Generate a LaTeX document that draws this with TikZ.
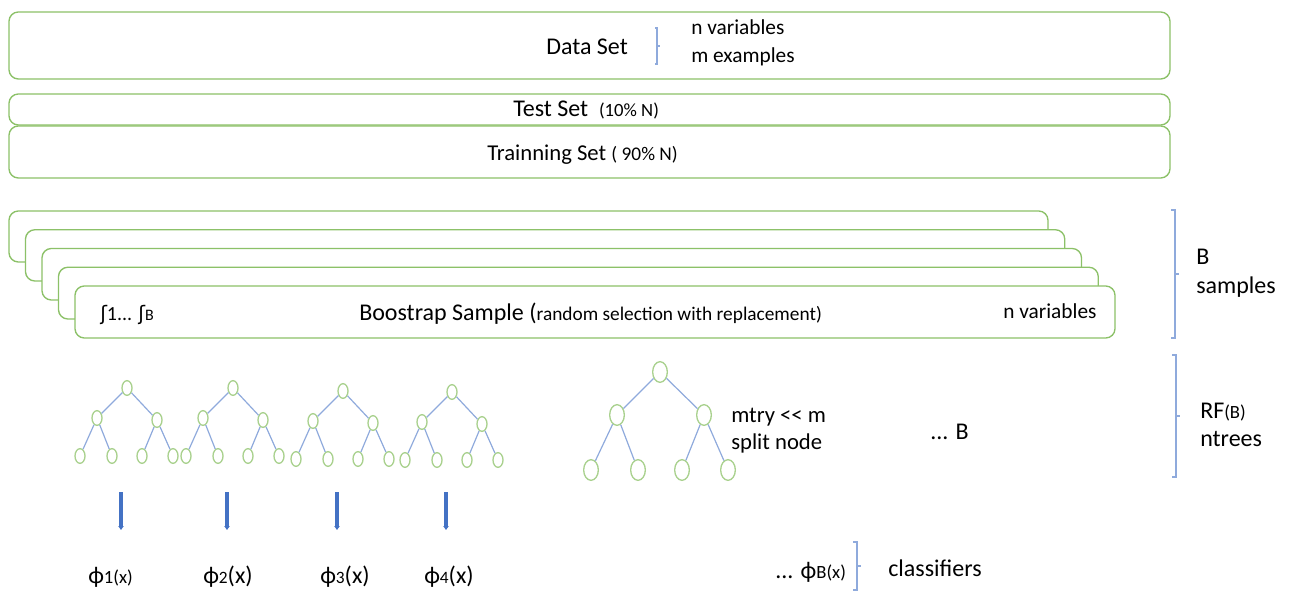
\documentclass[tikz,border=0pt]{standalone}
\usepackage{fontspec}
\setmainfont{Carlito}
\newfontfamily\symfont{DejaVu Sans}
\usetikzlibrary{shapes.geometric,arrows.meta}
\definecolor{boxgreen}{HTML}{8CC168}
\definecolor{leafgreen}{HTML}{A9D18E}
\definecolor{edgeblue}{HTML}{8FAADC}
\definecolor{arrowblue}{HTML}{4472C4}
\newcommand{\setfs}[1]{\fontsize{#1}{#1}\selectfont}

\begin{document}
\begin{tikzpicture}[x=0.75pt, y=-0.75pt, every node/.style={inner sep=0pt},
    setbox/.style={draw=boxgreen, line width=1pt, rounded corners=7pt, fill=white},
    tnode/.style={draw=leafgreen, line width=1pt, ellipse, minimum width=7.5pt, minimum height=11pt},
    bignode/.style={tnode, minimum width=11pt, minimum height=15.5pt},
    tedge/.style={draw=edgeblue, line width=0.9pt},
    brace/.style={draw=edgeblue, line width=0.8pt}]
    \useasboundingbox (0,0) rectangle (1295,591);

    % Data, test and training sets
    \draw[setbox] (9,12) rectangle (1170,79);
    \draw[setbox] (9,94) rectangle (1170,125);
    \draw[setbox] (9,126) rectangle (1170,178);
    \node[anchor=base west] (data) at (546,55) {\setfs{18}Data Set};
    \draw[brace] (655,28) -- (657,28) -- (657,64) -- (655,64) (657,46) -- (660,46);
    \node[anchor=base west] (nvar) at (691,35) {\setfs{16}n variables};
    \node[anchor=base west] (mex) at (691,63) {\setfs{16}m examples};
    \node[anchor=base west] (test) at (513,117) {\setfs{18}Test Set\ \ \setfs{14}(10\% N)};
    \node[anchor=base west] (train) at (487,161) {\setfs{17}Trainning Set\ \setfs{14.5}( 90\% N)};

    % Bootstrap samples, back to front
    \foreach \k in {0,...,4} {
        \draw[setbox] (9+16.5*\k,211+18.75*\k) rectangle (1048+16.75*\k,262+19*\k);
    }
    \node[anchor=base west] (idx) at (100,321) {\setfs{15}{\symfont ʃ}1... {\symfont ʃ}\setfs{12}B};
    \node[anchor=base west] (boot) at (359,321) {\setfs{18}Boostrap Sample (\setfs{14.5}random selection with replacement)};
    \node[anchor=base west] (bvar) at (1003,319) {\setfs{16}n variables};
    \draw[brace] (1171,210) -- (1175,210) -- (1175,338) -- (1171,338) (1175,274) -- (1179,274);
    \node[anchor=base west] (bsam) at (1196,265) {\setfs{18}B};
    \node[anchor=base west] (bsam2) at (1196,294) {\setfs{18}samples};

    % Small trees with their classifiers
    \foreach \i/\tx/\ty in {1/127/388, 2/233/388, 3/343/391, 4/452/392} {
        \node[tnode] (t\i) at (\tx,\ty) {};
        \node[tnode] (t\i a) at (\tx-30,\ty+30) {};
        \node[tnode] (t\i b) at (\tx+30,\ty+32) {};
        \node[tnode] (t\i aa) at (\tx-47,\ty+68) {};
        \node[tnode] (t\i ab) at (\tx-15,\ty+68) {};
        \node[tnode] (t\i ba) at (\tx+15,\ty+68) {};
        \node[tnode] (t\i bb) at (\tx+46,\ty+68) {};
        \draw[tedge] (t\i) -- (t\i a) (t\i) -- (t\i b)
            (t\i a) -- (t\i aa) (t\i a) -- (t\i ab)
            (t\i b) -- (t\i ba) (t\i b) -- (t\i bb);
        \coordinate (a\i) at (\tx-6,492);
        \coordinate (b\i) at (\tx-6,530);
        \draw[arrowblue, line width=2.3pt, -{Triangle[length=3pt, width=4pt]}] (a\i) -- (b\i);
    }
    \node[anchor=base west] (phi1) at (88,583) {\setfs{18}ϕ\setfs{14}1(x)};
    \node[anchor=base west] (phi2) at (203,583) {\setfs{18}ϕ\setfs{13}2\setfs{18}(x)};
    \node[anchor=base west] (phi3) at (320,583) {\setfs{18}ϕ\setfs{13}3\setfs{18}(x)};
    \node[anchor=base west] (phi4) at (424,583) {\setfs{18}ϕ\setfs{13}4\setfs{18}(x)};

    % Larger tree
    \node[bignode] (r) at (660,372) {};
    \node[bignode] (ra) at (617,415) {};
    \node[bignode] (rb) at (704,415) {};
    \node[bignode] (raa) at (591,470) {};
    \node[bignode] (rab) at (638,470) {};
    \node[bignode] (rba) at (682,470) {};
    \node[bignode] (rbb) at (728,470) {};
    \draw[tedge] (r) -- (ra) (r) -- (rb) (ra) -- (raa) (ra) -- (rab) (rb) -- (rba) (rb) -- (rbb);
    \node[anchor=base west] (mtry) at (731,422) {\setfs{17}mtry <{}< m};
    \node[anchor=base west] (split) at (731,449) {\setfs{17}split node};
    \node[anchor=base west] (dotsb) at (930,439) {\setfs{18}... B};
    \draw[brace] (1172,355) -- (1176,355) -- (1176,477) -- (1172,477) (1176,416) -- (1180,416);
    \node[anchor=base west] (rf) at (1200,418) {\setfs{18}RF\setfs{14}(B)};
    \node[anchor=base west] (ntr) at (1200,446) {\setfs{18}ntrees};

    % Classifiers
    \node[anchor=base west] (phib) at (775,578) {\setfs{18}... ϕ\setfs{14}B(x)};
    \draw[brace] (853,542) -- (857,542) -- (857,590) -- (853,590) (857,566) -- (861,566);
    \node[anchor=base west] (cls) at (888,576) {\setfs{18}classifiers};
\end{tikzpicture}
\end{document}
